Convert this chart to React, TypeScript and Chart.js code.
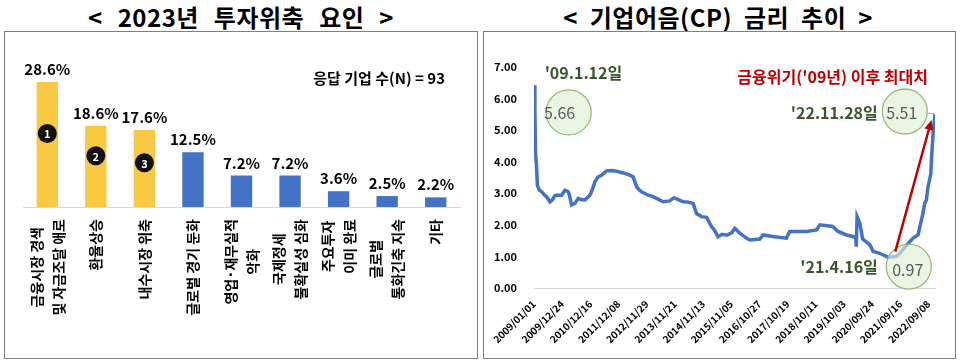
import React, { useEffect, useRef } from 'react';
import { Chart, registerables } from 'chart.js';

Chart.register(...registerables);

const FONT = "'Noto Sans CJK KR', 'Noto Sans', sans-serif";

// ---------- Left chart: 2023년 투자위축 요인 ----------
const leftTitle = '< 2023년 투자위축 요인 >';
const factorLabels: string[][] = [
  ['금융시장 경색', '및 자금조달 애로'],
  ['환율상승'],
  ['내수시장 위축'],
  ['글로벌 경기 둔화'],
  ['영업·재무실적', '악화'],
  ['국제정세', '불확실성 심화'],
  ['주요투자', '이미 완료'],
  ['글로벌', '통화긴축 지속'],
  ['기타'],
];
const factorShares = [28.6, 18.6, 17.6, 12.5, 7.2, 7.2, 3.6, 2.5, 2.2];
const factorColors = ['#F9C943', '#F9C943', '#F9C943', '#4472C4', '#4472C4', '#4472C4', '#4472C4', '#4472C4', '#4472C4'];
const rankNumbers = ['1', '2', '3'];
const rankMarkerLevels = [16.8, 11.7, 10.1];
const respondentNote = '응답 기업 수(N) = 93';

// ---------- Right chart: 기업어음(CP) 금리 추이 ----------
const rightTitle = '< 기업어음(CP) 금리 추이 >';
const cpDates = [
  '2009-01-02', '2009-01-12', '2009-01-20', '2009-02-02', '2009-02-13', '2009-03-10', '2009-04-08', '2009-05-10',
  '2009-06-10', '2009-07-22', '2009-08-25', '2009-09-20', '2009-10-15', '2009-12-17', '2010-01-28', '2010-03-10',
  '2010-03-25', '2010-04-22', '2010-06-03', '2010-07-15', '2010-08-20', '2010-10-08', '2010-12-10', '2011-01-15',
  '2011-02-11', '2011-03-24', '2011-05-06', '2011-07-08', '2011-09-10', '2011-11-14', '2012-01-10', '2012-02-25',
  '2012-04-20', '2012-06-10', '2012-07-23', '2012-08-20', '2012-09-24', '2012-12-17', '2013-02-10', '2013-04-02',
  '2013-06-25', '2013-09-17', '2013-11-10', '2013-12-13', '2014-03-07', '2014-05-10', '2014-07-10', '2014-08-22',
  '2014-10-01', '2014-10-23', '2014-12-27', '2015-02-28', '2015-04-01', '2015-05-22', '2015-07-10', '2015-09-05',
  '2015-11-10', '2015-12-20', '2016-02-20', '2016-05-15', '2016-06-27', '2016-10-31', '2016-12-12', '2017-04-13',
  '2017-10-04', '2017-11-14', '2018-06-14', '2018-10-19', '2018-11-30', '2019-05-12', '2019-07-19', '2019-11-02',
  '2020-01-22', '2020-02-28', '2020-03-06', '2020-03-16', '2020-04-20', '2020-05-26', '2020-08-24', '2020-10-05',
  '2020-12-28', '2021-04-16', '2021-07-27', '2021-09-30', '2021-12-01', '2022-02-24', '2022-04-27', '2022-06-09',
  '2022-06-29', '2022-07-20', '2022-08-11', '2022-09-01', '2022-10-05', '2022-10-20', '2022-11-04', '2022-11-28',
];
const cpRates = [
  6.42, 5.66, 4.3, 3.84, 3.25, 3.1, 3.05, 2.95,
  2.89, 2.73, 2.8, 2.92, 2.94, 2.94, 3.1, 3.05,
  2.95, 2.63, 2.68, 2.84, 2.8, 2.79, 2.94, 3.15,
  3.36, 3.52, 3.57, 3.71, 3.72, 3.7, 3.66, 3.63,
  3.58, 3.52, 3.21, 3.12, 3.05, 2.94, 2.9, 2.84,
  2.73, 2.76, 2.86, 2.82, 2.73, 2.72, 2.68, 2.36,
  2.3, 2.26, 2.24, 1.94, 1.85, 1.62, 1.7, 1.67,
  1.75, 1.89, 1.74, 1.58, 1.52, 1.55, 1.68, 1.63,
  1.58, 1.79, 1.79, 1.84, 2.0, 1.95, 1.79, 1.68,
  1.63, 1.6, 1.31, 2.26, 2.05, 1.55, 1.37, 1.16,
  1.1, 0.97, 1.0, 1.16, 1.35, 1.58, 1.68, 2.16,
  2.37, 2.68, 2.79, 3.21, 3.6, 4.3, 4.9, 5.51,
];
const cpTickDates = [
  '2009/01/01', '2009/12/24', '2010/12/16', '2011/12/08', '2012/11/29', '2013/11/21', '2014/11/13', '2015/11/05',
  '2016/10/27', '2017/10/19', '2018/10/11', '2019/10/03', '2020/09/24', '2021/09/16', '2022/09/08',
];
const calloutDates = ['2010-03-16', '2021-11-10', '2021-12-31'];
const calloutValues = [5.56, 5.59, 0.68];
const calloutTexts = ['5.66', '5.51', '0.97'];
const calloutDateLabels = ["'09.1.12일", "'22.11.28일", "'21.4.16일"];
const arrowFromDate = '2021-07-13';
const arrowFromValue = 1.15;
const arrowToDate = '2022-10-14';
const arrowToValue = 5.32;
const peakNote = "금융위기('09년) 이후 최대치";

const BASE = Date.UTC(2009, 0, 1);
const toDay = (s: string) => {
  const [y, m, d] = s.split(/[-/]/).map(Number);
  return (Date.UTC(y, m - 1, d) - BASE) / 86400000;
};

const leftPlugin = {
  id: 'leftDecor',
  afterDatasetsDraw(chart: any) {
    const { ctx, chartArea } = chart;
    const meta = chart.getDatasetMeta(0);
    const xs = chart.scales.x;
    const ys = chart.scales.y;
    ctx.save();
    ctx.fillStyle = '#000';
    ctx.font = `bold 15px ${FONT}`;
    ctx.textAlign = 'center';
    ctx.textBaseline = 'alphabetic';
    meta.data.forEach((bar: any, i: number) => {
      ctx.fillText(`${factorShares[i]}%`, bar.x, bar.y - 7);
    });
    rankNumbers.forEach((n, i) => {
      const cx = meta.data[i].x;
      const cy = ys.getPixelForValue(rankMarkerLevels[i]);
      ctx.beginPath();
      ctx.arc(cx, cy, 9.5, 0, Math.PI * 2);
      ctx.fillStyle = '#111';
      ctx.fill();
      ctx.fillStyle = '#fff';
      ctx.font = `bold 11px ${FONT}`;
      ctx.textBaseline = 'middle';
      ctx.fillText(n, cx, cy + 0.5);
    });
    ctx.fillStyle = '#000';
    ctx.font = `bold 14px ${FONT}`;
    const axisY = chartArea.bottom;
    factorLabels.forEach((lines, i) => {
      const cx = xs.getPixelForValue(i);
      const maxW = Math.max(...lines.map((l) => ctx.measureText(l).width));
      const cy = axisY + 12 + maxW / 2;
      lines.forEach((line, j) => {
        const lx = cx + (j - (lines.length - 1) / 2) * 22;
        ctx.save();
        ctx.translate(lx, cy);
        ctx.rotate(-Math.PI / 2);
        ctx.textAlign = 'center';
        ctx.textBaseline = 'middle';
        ctx.fillText(line, 0, 0);
        ctx.restore();
      });
    });
    ctx.font = `bold 15px ${FONT}`;
    ctx.textAlign = 'right';
    ctx.textBaseline = 'middle';
    ctx.fillText(respondentNote, chartArea.right - 15, chartArea.top + 46);
    ctx.restore();
  },
};

const calloutTextShift = [-9, -3, -1];
const calloutTextDy = [0, 1.5, 3.5];
const calloutLabelDx = [-24, -27, -31];
const calloutLabelDy = [-40, 1, 0];
const calloutLabelAlign = ['left', 'right', 'right'];

const rightPlugin = {
  id: 'cpDecor',
  afterDatasetsDraw(chart: any) {
    const { ctx, chartArea } = chart;
    const xs = chart.scales.x;
    const ys = chart.scales.y;
    const px = (d: string) => xs.getPixelForValue(toDay(d));
    const py = (v: number) => ys.getPixelForValue(v);
    ctx.save();
    // red note
    ctx.font = `bold 16px ${FONT}`;
    ctx.fillStyle = '#C00000';
    ctx.textAlign = 'right';
    ctx.textBaseline = 'middle';
    ctx.fillText(peakNote, chartArea.right - 7, chartArea.top + 10);

    // leader from 2nd circle to last point
    const lastX = px(cpDates[cpDates.length - 1]);
    const lastY = py(cpRates[cpRates.length - 1]);
    const c2x = px(calloutDates[1]);
    const c2y = py(calloutValues[1]);
    ctx.strokeStyle = '#A6A6A6';
    ctx.lineWidth = 1;
    ctx.beginPath();
    ctx.moveTo(c2x + 22, c2y + 1.5);
    ctx.lineTo(lastX, lastY);
    ctx.stroke();

    // callouts
    calloutDates.forEach((d, i) => {
      const cx = px(d);
      const cy = py(calloutValues[i]);
      ctx.beginPath();
      ctx.arc(cx, cy, 22.5, 0, Math.PI * 2);
      ctx.fillStyle = 'rgba(224,239,212,0.65)';
      ctx.fill();
      ctx.strokeStyle = '#94BB7C';
      ctx.lineWidth = 1.3;
      ctx.stroke();
      ctx.fillStyle = '#595959';
      ctx.font = `16px ${FONT}`;
      ctx.textAlign = 'center';
      ctx.textBaseline = 'middle';
      ctx.fillText(calloutTexts[i], cx + calloutTextShift[i], cy + calloutTextDy[i]);
      ctx.fillStyle = '#38572A';
      ctx.font = `bold 16px ${FONT}`;
      ctx.textAlign = calloutLabelAlign[i];
      ctx.fillText(calloutDateLabels[i], cx + calloutLabelDx[i], cy + calloutLabelDy[i]);
    });

    // arrow
    const x1 = px(arrowFromDate);
    const y1 = py(arrowFromValue);
    const x2 = px(arrowToDate);
    const y2 = py(arrowToValue);
    const ang = Math.atan2(y2 - y1, x2 - x1);
    const head = 10;
    const hw = 4.5;
    ctx.strokeStyle = '#C00000';
    ctx.fillStyle = '#C00000';
    ctx.lineWidth = 2.5;
    ctx.beginPath();
    ctx.moveTo(x1, y1);
    ctx.lineTo(x2 - head * 0.8 * Math.cos(ang), y2 - head * 0.8 * Math.sin(ang));
    ctx.stroke();
    const bx = x2 - head * Math.cos(ang);
    const by = y2 - head * Math.sin(ang);
    ctx.beginPath();
    ctx.moveTo(x2, y2);
    ctx.lineTo(bx + hw * Math.sin(ang), by - hw * Math.cos(ang));
    ctx.lineTo(bx - hw * Math.sin(ang), by + hw * Math.cos(ang));
    ctx.closePath();
    ctx.fill();
    ctx.restore();
  },
};

export default function App() {
  const leftRef = useRef<HTMLCanvasElement>(null);
  const rightRef = useRef<HTMLCanvasElement>(null);

  useEffect(() => {
    Chart.defaults.font.family = FONT;
    const left = new Chart(leftRef.current!, {
      type: 'bar',
      data: {
        labels: factorLabels.map((l) => l.join(' ')),
        datasets: [
          {
            data: factorShares,
            backgroundColor: factorColors,
            borderWidth: 0,
            barPercentage: 0.44,
            categoryPercentage: 1,
          },
        ],
      },
      options: {
        responsive: false,
        animation: false,
        devicePixelRatio: 1,
        layout: { padding: { left: 23, right: 500, top: 32, bottom: 155 } },
        plugins: { legend: { display: false }, tooltip: { enabled: false } },
        scales: {
          x: {
            grid: { display: false, drawTicks: false },
            border: { display: true, color: '#D9D9D9', width: 1 },
            ticks: { display: false },
          },
          y: { display: false, min: 0, max: 40 },
        },
      },
      plugins: [leftPlugin],
    } as any);

    const right = new Chart(rightRef.current!, {
      type: 'line',
      data: {
        datasets: [
          {
            data: cpDates.map((d, i) => ({ x: toDay(d), y: cpRates[i] })),
            borderColor: '#4472C4',
            borderWidth: 3.5,
            pointRadius: 0,
            tension: 0,
            fill: false,
          },
        ],
      },
      options: {
        responsive: false,
        animation: false,
        devicePixelRatio: 1,
        layout: { padding: { left: 483, right: 25, top: 67, bottom: 2 } },
        plugins: { legend: { display: false }, tooltip: { enabled: false } },
        scales: {
          x: {
            type: 'linear',
            min: 0,
            max: toDay(cpDates[cpDates.length - 1]),
            grid: { display: false, drawTicks: false },
            border: { display: true, color: '#D9D9D9', width: 1 },
            afterBuildTicks: (axis: any) => {
              axis.ticks = cpTickDates.map((t) => ({ value: toDay(t) }));
            },
            afterFit: (axis: any) => {
              axis.height = 72;
            },
            ticks: {
              autoSkip: false,
              minRotation: 45,
              maxRotation: 45,
              padding: 10,
              color: '#000',
              font: { family: FONT, size: 10, weight: 'bold' },
              callback: (_v: any, i: number) => cpTickDates[i],
            },
          },
          y: {
            min: 0,
            max: 7,
            grid: { display: false, drawTicks: false },
            border: { display: false },
            afterFit: (axis: any) => {
              axis.width = 51;
            },
            ticks: {
              stepSize: 1,
              padding: 17,
              color: '#000',
              font: { family: FONT, size: 11, weight: 'bold' },
              callback: (v: any) => Number(v).toFixed(2),
            },
          },
        },
      },
      plugins: [rightPlugin],
    } as any);

    return () => {
      left.destroy();
      right.destroy();
    };
  }, []);

  const titleStyle: React.CSSProperties = {
    position: 'absolute',
    top: 0,
    height: 34,
    lineHeight: '34px',
    textAlign: 'center',
    fontFamily: FONT,
    fontWeight: 'bold',
    fontSize: 24,
    color: '#000',
    whiteSpace: 'pre',
    letterSpacing: 0.5,
  };
  const frameStyle: React.CSSProperties = {
    position: 'absolute',
    top: 31,
    height: 328,
    border: '1px solid #7F7F7F',
    boxSizing: 'border-box',
  };
  const canvasStyle: React.CSSProperties = { position: 'absolute', left: 0, top: 0, width: 960, height: 362 };

  return (
    <div style={{ position: 'fixed', left: 0, top: 0, width: 960, height: 362, background: '#fff', overflow: 'hidden' }}>
      <div style={{ ...titleStyle, left: 0, width: 482, wordSpacing: 9 }}>{leftTitle}</div>
      <div style={{ ...titleStyle, left: 478, width: 480, wordSpacing: 6 }}>{rightTitle}</div>
      <div style={{ ...frameStyle, left: 4, width: 474 }} />
      <div style={{ ...frameStyle, left: 483, width: 473 }} />
      <canvas ref={leftRef} width={960} height={362} style={canvasStyle} />
      <canvas ref={rightRef} width={960} height={362} style={canvasStyle} />
    </div>
  );
}
